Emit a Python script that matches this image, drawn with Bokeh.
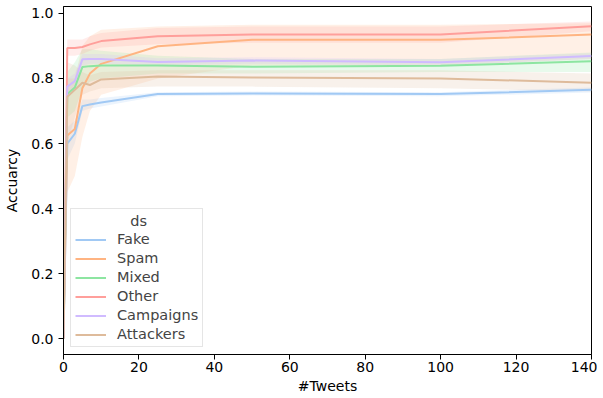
from bokeh.plotting import figure
from bokeh.models import Range1d, Legend, LegendItem, FixedTicker, NumeralTickFormatter, ColumnDataSource
from bokeh.embed import file_html
from bokeh.resources import INLINE

tweets = [0, 1, 3, 5, 7, 10, 25, 50, 100, 140]
series_names = ["Fake", "Spam", "Mixed", "Other", "Campaigns", "Attackers"]
colors = ["#a1c9f4", "#ffb482", "#8de5a1", "#ff9f9b", "#d0bbff", "#debb9b"]

fake_mean = [0, 0.600, 0.630, 0.715, 0.720, 0.726, 0.752, 0.754, 0.752, 0.765]
fake_low = [0, 0.550, 0.600, 0.700, 0.708, 0.714, 0.745, 0.748, 0.745, 0.757]
fake_high = [0, 0.650, 0.670, 0.735, 0.735, 0.740, 0.758, 0.760, 0.758, 0.772]

spam_mean = [0, 0.625, 0.645, 0.770, 0.815, 0.845, 0.899, 0.919, 0.919, 0.935]
spam_low = [0, 0.450, 0.500, 0.620, 0.700, 0.750, 0.800, 0.840, 0.840, 0.860]
spam_high = [0, 0.800, 0.800, 0.900, 0.930, 0.950, 0.960, 0.965, 0.965, 0.970]

mixed_mean = [0, 0.752, 0.772, 0.835, 0.838, 0.840, 0.840, 0.836, 0.839, 0.853]
mixed_low = [0, 0.680, 0.700, 0.770, 0.790, 0.800, 0.815, 0.815, 0.820, 0.820]
mixed_high = [0, 0.820, 0.850, 0.890, 0.890, 0.885, 0.870, 0.860, 0.860, 0.880]

other_mean = [0, 0.894, 0.894, 0.897, 0.905, 0.915, 0.930, 0.935, 0.935, 0.961]
other_low = [0, 0.870, 0.870, 0.875, 0.885, 0.895, 0.905, 0.910, 0.910, 0.945]
other_high = [0, 0.920, 0.920, 0.920, 0.930, 0.940, 0.955, 0.960, 0.960, 0.975]

campaigns_mean = [0, 0.775, 0.792, 0.859, 0.860, 0.860, 0.851, 0.855, 0.850, 0.869]
campaigns_low = [0, 0.740, 0.770, 0.840, 0.845, 0.845, 0.840, 0.845, 0.840, 0.860]
campaigns_high = [0, 0.800, 0.815, 0.875, 0.875, 0.875, 0.862, 0.865, 0.860, 0.878]

attackers_mean = [0, 0.744, 0.765, 0.787, 0.780, 0.797, 0.806, 0.803, 0.800, 0.787]
attackers_low = [0, 0.600, 0.680, 0.750, 0.760, 0.770, 0.775, 0.775, 0.770, 0.760]
attackers_high = [0, 0.850, 0.840, 0.820, 0.810, 0.820, 0.825, 0.825, 0.825, 0.815]

x_ticks = [0, 20, 40, 60, 80, 100, 120, 140]
y_ticks = [0.0, 0.2, 0.4, 0.6, 0.8, 1.0]

means = [fake_mean, spam_mean, mixed_mean, other_mean, campaigns_mean, attackers_mean]
lows = [fake_low, spam_low, mixed_low, other_low, campaigns_low, attackers_low]
highs = [fake_high, spam_high, mixed_high, other_high, campaigns_high, attackers_high]

FONT = "DejaVu Sans"

p = figure(width=597, height=396, output_backend="svg", toolbar_location=None,
           x_range=Range1d(0, 140), y_range=Range1d(-0.0489, 1.0214),
           min_border_left=63, min_border_right=6, min_border_top=6, min_border_bottom=40,
           x_axis_label="#Tweets", y_axis_label="Accuarcy")

p.xgrid.visible = False
p.ygrid.visible = False
p.outline_line_color = "black"
p.outline_line_width = 1
p.outline_line_alpha = 1
p.background_fill_color = "white"
p.border_fill_color = "white"

for ax in (p.xaxis[0], p.yaxis[0]):
    ax.axis_line_color = "black"
    ax.major_tick_line_color = "black"
    ax.major_tick_out = 5
    ax.major_tick_in = 0
    ax.minor_tick_line_color = None
    ax.major_label_text_font = FONT
    ax.major_label_text_font_size = "14px"
    ax.major_label_text_color = "black"
    ax.axis_label_text_font = FONT
    ax.axis_label_text_font_size = "14px"
    ax.axis_label_text_font_style = "normal"
    ax.axis_label_text_color = "black"

p.xaxis[0].major_label_standoff = 2
p.xaxis[0].axis_label_standoff = 3
p.yaxis[0].major_label_standoff = 5
p.yaxis[0].axis_label_standoff = 8

p.xaxis[0].ticker = FixedTicker(ticks=x_ticks)
p.yaxis[0].ticker = FixedTicker(ticks=y_ticks)
p.yaxis[0].formatter = NumeralTickFormatter(format="0.0")

# bands first
for name, col, m, lo, hi in zip(series_names, colors, means, lows, highs):
    src = ColumnDataSource(dict(x=tweets, y=m, lo=lo, hi=hi))
    p.varea(x="x", y1="lo", y2="hi", source=src, fill_color=col, fill_alpha=0.2)

items = []
for name, col, m in zip(series_names, colors, means):
    src = ColumnDataSource(dict(x=tweets, y=m))
    r = p.line(x="x", y="y", source=src, line_color=col, line_width=2)
    items.append(LegendItem(label=name, renderers=[r]))

legend = Legend(items=items, location=(7, 7), title="\u00a0" * 12 + "ds",
                label_text_font=FONT, label_text_font_size="14.5px",
                title_text_font=FONT, title_text_font_size="14.5px",
                title_text_font_style="normal",
                glyph_width=31, glyph_height=15, label_height=15,
                spacing=3, padding=4, margin=0, label_standoff=11,
                title_standoff=2,
                border_line_color="#cccccc", border_line_width=1,
                background_fill_color="white", background_fill_alpha=0.8)
p.add_layout(legend)

open("out.html", "w").write(file_html(p, INLINE))
